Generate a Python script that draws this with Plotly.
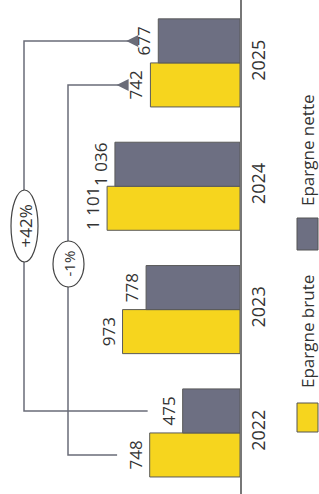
import plotly.graph_objects as go

years = [2022, 2023, 2024, 2025]
year_labels = ["2022", "2023", "2024", "2025"]
brute = [748, 973, 1101, 742]
nette = [475, 778, 1036, 677]
series_names = ["Epargne brute", "Epargne nette"]
changes = ["+42%", "-1%"]

YELLOW = "#F6D51E"
GRAY = "#6D6F82"
LINE = "#6A6C78"
TEXT = "#333333"
FONT = "Open Sans"

W, H = 319, 494
ML, MR, MT, MB = 0, 79, 0, 0
PW, PH = W - ML - MR, H - MT - MB
XMAX = 1988
Y0, Y1 = 2022 - 0.495, 2025 + 0.51


def fmt(v):
    return f"{v:,}".replace(",", " ")


def px2x(px):
    return XMAX * (1 - px / PW)


def px2y(py):
    return Y1 - (py / PH) * (Y1 - Y0)


fig = go.Figure()
for name, vals, col in [(series_names[0], brute, YELLOW), (series_names[1], nette, GRAY)]:
    fig.add_trace(go.Bar(
        y=years, x=vals, orientation="h", name=name,
        marker=dict(color=col, line=dict(color="#5a5a5a", width=1)),
        text=[fmt(v) for v in vals], textposition="outside", textangle=-90,
        textfont=dict(family=FONT, size=17, color=TEXT),
        cliponaxis=False, showlegend=False, hoverinfo="skip",
    ))

bw = (1 - 0.286) / 2
off = bw / 2
shapes = []
annotations = []

brackets = [
    (nette, +off, 290, 265, px2x(24), changes[0], (px2x(11), px2x(38)), (px2y(190), px2y(262)), px2y(226), 17),
    (brute, -off, 270, 280, px2x(68), changes[1], (px2x(53), px2x(84)), (px2y(241), px2y(287)), px2y(264), 15),
]
for vals, dy, gs, ge, vx, label, (ox0, ox1), (oy0, oy1), oyc, fs in brackets:
    ys = years[0] + dy
    ye = years[-1] + dy
    xs = vals[0] + gs
    xe = vals[-1] + ge
    shapes.append(dict(type="path", xref="x", yref="y",
                       path=f"M {xs},{ys} L {vx},{ys} L {vx},{ye} L {xe - 60},{ye}",
                       line=dict(color=LINE, width=1.5)))
    annotations.append(dict(x=xe, y=ye, ax=xe - 100, ay=ye, xref="x", yref="y",
                            axref="x", ayref="y", text="", showarrow=True,
                            arrowhead=2, arrowsize=1.6, arrowwidth=1.5, arrowcolor=LINE))
    shapes.append(dict(type="circle", xref="x", yref="y", x0=ox0, x1=ox1, y0=oy0, y1=oy1,
                       fillcolor="white", line=dict(color="#444444", width=1.2), layer="above"))
    annotations.append(dict(x=(ox0 + ox1) / 2, y=oyc, xref="x", yref="y", text=label,
                            textangle=-90, showarrow=False, xanchor="center", yanchor="middle",
                            font=dict(family=FONT, size=fs, color=TEXT)))


def pxp(px):
    return px / PW


def pyp(py):
    return 1 - py / PH


legend_items = [
    (series_names[0], YELLOW, (403, 432), 332),
    (series_names[1], GRAY, (218, 250), 150),
]
for name, col, (sy0, sy1), ty in legend_items:
    shapes.append(dict(type="rect", xref="paper", yref="paper",
                       x0=pxp(297), x1=pxp(318), y0=pyp(sy1), y1=pyp(sy0),
                       fillcolor=col, line=dict(color="#555555", width=1)))
    annotations.append(dict(x=pxp(307), y=pyp(ty), xref="paper", yref="paper",
                            text=name, textangle=-90, showarrow=False,
                            xanchor="center", yanchor="middle",
                            font=dict(family=FONT, size=17, color=TEXT)))

fig.update_layout(
    width=W, height=H,
    margin=dict(l=ML, r=MR, t=MT, b=MB, autoexpand=False),
    paper_bgcolor="white", plot_bgcolor="white",
    barmode="group", bargap=0.286, bargroupgap=0,
    shapes=shapes, annotations=annotations,
    xaxis=dict(range=[XMAX, 0], showgrid=False, zeroline=False, showticklabels=False,
               showline=False, fixedrange=True),
    yaxis=dict(range=[Y0, Y1], side="right", tickvals=years, ticktext=year_labels,
               tickangle=-90, showgrid=False, zeroline=False, showline=True,
               linecolor="#777777", linewidth=1.5, ticks="", ticklabelstandoff=2,
               tickfont=dict(family=FONT, size=18, color=TEXT), fixedrange=True),
)

fig.write_html("out.html", config={"displayModeBar": False},
               post_script="document.body.style.margin='0';")
